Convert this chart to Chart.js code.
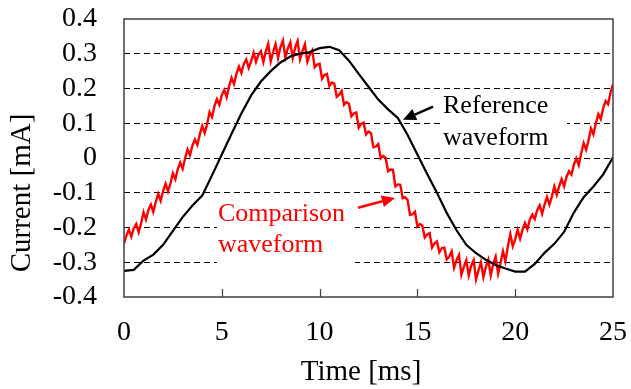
<!DOCTYPE html>
<html><head><meta charset="utf-8">
<script src="https://cdn.jsdelivr.net/npm/chart.js@4.4.0/dist/chart.umd.min.js"></script>
<style>html,body{margin:0;padding:0;background:#fff;}</style>
</head><body>
<canvas id="c" width="631" height="389"></canvas>
<script>
// ---- data ----
const refTime = [0,0.5,1,1.5,2,2.5,3,3.5,4,4.5,5,5.5,6,6.5,7,7.5,8,8.5,9,9.5,10,10.5,11,11.5,12,12.5,13,13.5,14,14.5,15,15.5,16,16.5,17,17.5,18,18.5,19,19.5,20,20.5,21,21.5,22,22.5,23,23.5,24,24.5,25];
const refCurrent = [-0.325,-0.322,-0.295,-0.278,-0.250,-0.210,-0.170,-0.137,-0.108,-0.050,0.010,0.070,0.128,0.180,0.220,0.250,0.275,0.292,0.300,0.305,0.316,0.320,0.310,0.280,0.242,0.205,0.168,0.140,0.115,0.066,0.010,-0.046,-0.100,-0.158,-0.208,-0.250,-0.274,-0.293,-0.308,-0.318,-0.327,-0.327,-0.305,-0.273,-0.247,-0.213,-0.157,-0.113,-0.082,-0.047,0.002];

const cmpTime = [0,0.125,0.25,0.375,0.5,0.625,0.75,0.875,1,1.125,1.25,1.375,1.5,1.625,1.75,1.875,2,2.125,2.25,2.375,2.5,2.625,2.75,2.875,3,3.125,3.25,3.375,3.5,3.625,3.75,3.875,4,4.125,4.25,4.375,4.5,4.625,4.75,4.875,5,5.125,5.25,5.375,5.5,5.625,5.75,5.875,6,6.125,6.25,6.375,6.5,6.625,6.75,6.875,7,7.125,7.25,7.375,7.5,7.625,7.75,7.875,8,8.125,8.25,8.375,8.5,8.625,8.75,8.875,9,9.125,9.25,9.375,9.5,9.625,9.75,9.875,10,10.125,10.25,10.375,10.5,10.625,10.75,10.875,11,11.125,11.25,11.375,11.5,11.625,11.75,11.875,12,12.125,12.25,12.375,12.5,12.625,12.75,12.875,13,13.125,13.25,13.375,13.5,13.625,13.75,13.875,14,14.125,14.25,14.375,14.5,14.625,14.75,14.875,15,15.125,15.25,15.375,15.5,15.625,15.75,15.875,16,16.125,16.25,16.375,16.5,16.625,16.75,16.875,17,17.125,17.25,17.375,17.5,17.625,17.75,17.875,18,18.125,18.25,18.375,18.5,18.625,18.75,18.875,19,19.125,19.25,19.375,19.5,19.625,19.75,19.875,20,20.125,20.25,20.375,20.5,20.625,20.75,20.875,21,21.125,21.25,21.375,21.5,21.625,21.75,21.875,22,22.125,22.25,22.375,22.5,22.625,22.75,22.875,23,23.125,23.25,23.375,23.5,23.625,23.75,23.875,24,24.125,24.25,24.375,24.5,24.625,24.75,24.875,25];
const cmpCurrent = [-0.246,-0.223,-0.206,-0.226,-0.202,-0.190,-0.214,-0.188,-0.156,-0.177,-0.149,-0.134,-0.155,-0.126,-0.103,-0.123,-0.095,-0.074,-0.096,-0.073,-0.044,-0.061,-0.032,-0.013,-0.031,0.000,0.025,0.008,0.036,0.053,0.038,0.068,0.092,0.072,0.098,0.132,0.118,0.150,0.169,0.153,0.181,0.196,0.175,0.207,0.231,0.213,0.242,0.263,0.245,0.271,0.284,0.259,0.278,0.303,0.277,0.298,0.307,0.276,0.307,0.329,0.278,0.305,0.328,0.288,0.319,0.338,0.289,0.315,0.333,0.288,0.318,0.337,0.284,0.308,0.327,0.277,0.298,0.310,0.261,0.269,0.271,0.228,0.239,0.242,0.207,0.217,0.214,0.176,0.182,0.193,0.153,0.161,0.156,0.120,0.128,0.131,0.087,0.098,0.102,0.068,0.076,0.072,0.031,0.033,0.040,-0.001,0.006,0.000,-0.038,-0.033,-0.034,-0.082,-0.076,-0.077,-0.116,-0.113,-0.121,-0.164,-0.162,-0.155,-0.197,-0.190,-0.194,-0.229,-0.220,-0.216,-0.258,-0.246,-0.240,-0.271,-0.259,-0.258,-0.292,-0.284,-0.269,-0.316,-0.294,-0.279,-0.336,-0.313,-0.294,-0.338,-0.310,-0.294,-0.349,-0.323,-0.300,-0.343,-0.314,-0.293,-0.338,-0.305,-0.284,-0.333,-0.302,-0.268,-0.297,-0.254,-0.219,-0.254,-0.234,-0.207,-0.232,-0.206,-0.187,-0.205,-0.177,-0.163,-0.176,-0.150,-0.136,-0.161,-0.134,-0.112,-0.134,-0.111,-0.082,-0.106,-0.081,-0.061,-0.082,-0.054,-0.038,-0.048,-0.019,-0.001,-0.021,0.014,0.043,0.024,0.051,0.085,0.068,0.100,0.126,0.112,0.144,0.164,0.155,0.189,0.212];

const xTicks = [0,5,10,15,20,25];
const yTicks = [-0.4,-0.3,-0.2,-0.1,0,0.1,0.2,0.3,0.4];

const seriesNames = ['Reference\nwaveform','Comparison\nwaveform'];
const xTitle = 'Time [ms]';
const yTitle = 'Current [mA]';

// ---- build chart ----
const FONT = "'Liberation Serif','Times New Roman',serif";
const toPts = (ts, vs) => ts.map((t,i)=>({x:t, y:vs[i]}));

// annotation layout, in data units
const notes = [
  {lines:['Reference','waveform'], color:'#000', t:16.31, v:[0.148,0.058],
   box:[16.26,22.65,0.191,0.010], arrow:[15.8,0.148,14.26,0.110]},
  {lines:['Comparison','waveform'], color:'#ff0000', t:4.8, v:[-0.163,-0.250],
   box:[4.75,11.81,-0.109,-0.328], arrow:[11.96,-0.143,13.85,-0.115]}
];

function arrow(ctx,x0,y0,x1,y1,color){
  const ang = Math.atan2(y1-y0,x1-x0), L=13, W=6;
  const bx = x1 - L*Math.cos(ang), by = y1 - L*Math.sin(ang);
  ctx.strokeStyle=color; ctx.fillStyle=color; ctx.lineWidth=2.5;
  ctx.beginPath(); ctx.moveTo(x0,y0); ctx.lineTo(bx,by); ctx.stroke();
  ctx.beginPath(); ctx.moveTo(x1,y1);
  ctx.lineTo(bx + W*Math.sin(ang), by - W*Math.cos(ang));
  ctx.lineTo(bx - W*Math.sin(ang), by + W*Math.cos(ang));
  ctx.closePath(); ctx.fill();
}

const noPad = s => { s.paddingLeft=0; s.paddingRight=0; s.paddingTop=0; s.paddingBottom=0; };

const decor = {
  id:'decor',
  beforeDatasetsDraw(chart){
    const {ctx, scales:{x,y}} = chart;
    ctx.save(); ctx.fillStyle='#fff';
    for (const n of notes){
      const [t0,t1,v0,v1]=n.box;
      const px0=x.getPixelForValue(t0), px1=x.getPixelForValue(t1);
      const py0=y.getPixelForValue(v0), py1=y.getPixelForValue(v1);
      ctx.fillRect(px0,py0,px1-px0,py1-py0);
    }
    ctx.restore();
  },
  afterDatasetsDraw(chart){
    const {ctx, chartArea:a, scales:{x,y}} = chart;
    ctx.save();
    // frame
    ctx.strokeStyle='#404040'; ctx.lineWidth=1.5;
    ctx.strokeRect(a.left,a.top,a.right-a.left,a.bottom-a.top);
    // inner x tick marks
    ctx.lineWidth=1.2;
    for (const t of xTicks){
      if (t===xTicks[0]||t===xTicks[xTicks.length-1]) continue;
      const px=Math.round(x.getPixelForValue(t))+0.5;
      ctx.beginPath(); ctx.moveTo(px,a.bottom); ctx.lineTo(px,a.bottom-8); ctx.stroke();
    }
    // annotations
    ctx.font = "26px "+FONT; ctx.textAlign='left'; ctx.textBaseline='middle';
    for (const n of notes){
      ctx.fillStyle=n.color;
      n.lines.forEach((s,i)=>ctx.fillText(s, x.getPixelForValue(n.t), y.getPixelForValue(n.v[i])));
      const [t0,v0,t1,v1]=n.arrow;
      arrow(ctx,x.getPixelForValue(t0),y.getPixelForValue(v0),x.getPixelForValue(t1),y.getPixelForValue(v1),n.color);
    }
    // axis titles
    ctx.fillStyle='#000'; ctx.font="29px "+FONT; ctx.textAlign='center'; ctx.textBaseline='middle';
    ctx.fillText(xTitle, 361, 372);
    ctx.translate(22,193); ctx.rotate(-Math.PI/2);
    ctx.fillText(yTitle, 0, 0);
    ctx.restore();
  }
};

new Chart(document.getElementById('c'), {
  type:'line',
  data:{datasets:[
    {label:seriesNames[0].replace('\n',' '), data:toPts(refTime,refCurrent), borderColor:'#000000', borderWidth:2.2, pointRadius:0, tension:0},
    {label:seriesNames[1].replace('\n',' '), data:toPts(cmpTime,cmpCurrent), borderColor:'#ff0000', borderWidth:2.4, pointRadius:0, tension:0}
  ]},
  options:{
    responsive:false, animation:false, devicePixelRatio:1,
    layout:{padding:{top:19,right:18,left:0,bottom:0}},
    plugins:{legend:{display:false}, tooltip:{enabled:false}},
    scales:{
      x:{type:'linear', min:0, max:25,
        afterBuildTicks:s=>{s.ticks=xTicks.map(v=>({value:v}));},
        afterFit:s=>{s.height=92; noPad(s);},
        grid:{display:false, drawTicks:false}, border:{display:false},
        ticks:{font:{family:FONT,size:28}, color:'#000', padding:19, maxRotation:0, autoSkip:false}
      },
      y:{type:'linear', min:-0.4, max:0.4,
        afterBuildTicks:s=>{s.ticks=yTicks.map(v=>({value:v}));},
        afterFit:s=>{s.width=124; noPad(s);},
        grid:{drawTicks:false, lineWidth:1,
          color:c=>(c.tick && Math.abs(c.tick.value)>0.35)?'rgba(0,0,0,0)':'#000'},
        border:{display:false, dash:[6,4]},
        ticks:{font:{family:FONT,size:28}, color:'#000', padding:27, autoSkip:false,
          callback:v=>String(Number(Number(v).toFixed(1)))}
      }
    }
  },
  plugins:[decor]
});
</script>
</body></html>
